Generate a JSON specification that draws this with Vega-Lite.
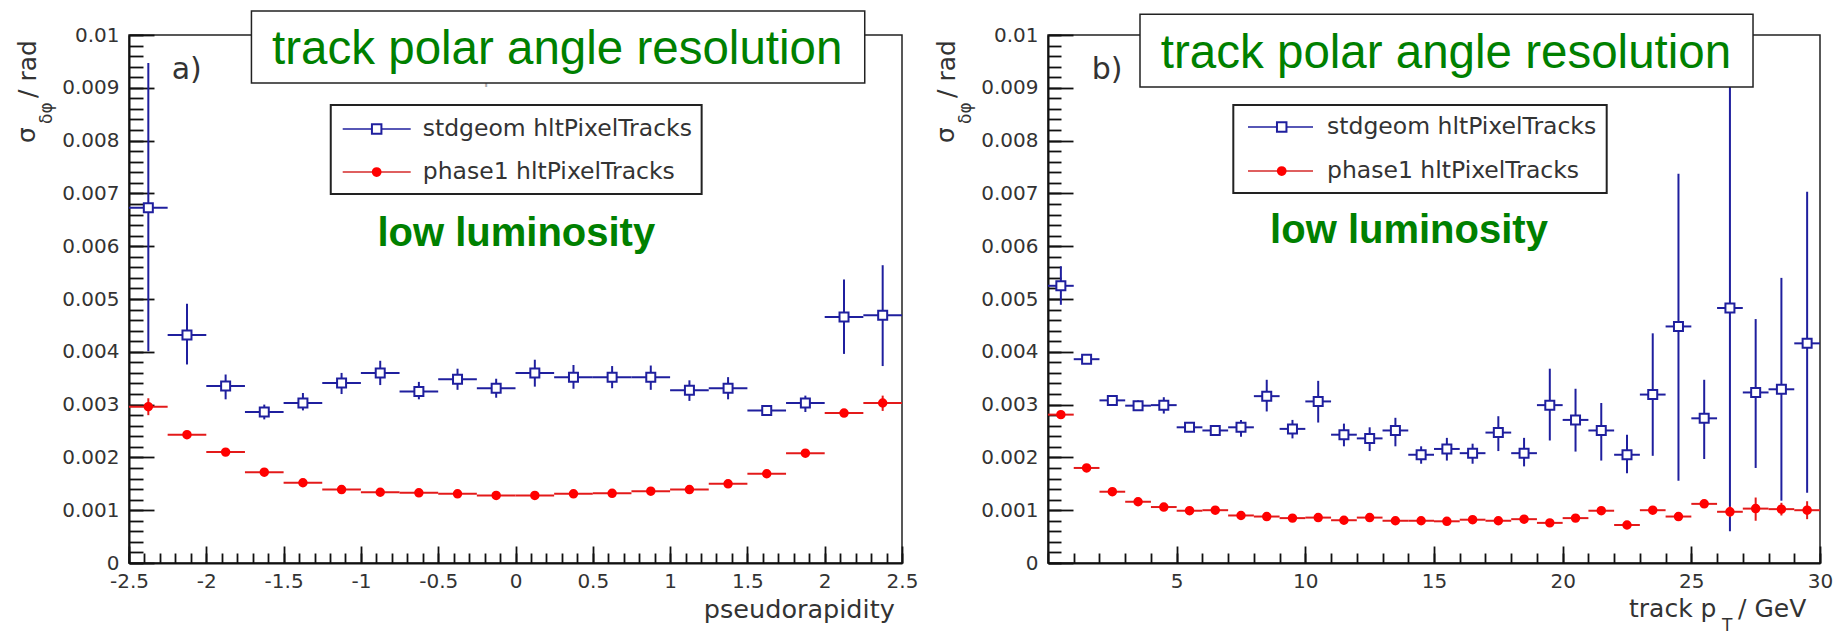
{
  "$schema": "https://vega.github.io/schema/vega-lite/v6.json",
  "background": "white",
  "padding": {"left": 13, "top": 9, "right": 0, "bottom": 0},
  "bounds": "flush",
  "spacing": 146,
  "config": {
    "view": {"stroke": "#222", "strokeWidth": 1.5},
    "axis": {"grid": false, "labelFont": "DejaVu Sans", "labelFontSize": 20, "labelColor": "#333", "tickColor": "#111", "tickWidth": 1.8, "domainColor": "#111", "domainWidth": 2, "labelFlush": false, "labelOverlap": false}
  },
  "datasets": {
    "eta": [
      {"s": "stdgeom", "x": -2.375, "xlo": -2.5, "xhi": -2.25, "y": 0.00673, "ylo": 0.00401, "yhi": 0.00947},
      {"s": "stdgeom", "x": -2.125, "xlo": -2.25, "xhi": -2.0, "y": 0.00432, "ylo": 0.00376, "yhi": 0.00491},
      {"s": "stdgeom", "x": -1.875, "xlo": -2.0, "xhi": -1.75, "y": 0.00335, "ylo": 0.0031, "yhi": 0.00357},
      {"s": "stdgeom", "x": -1.625, "xlo": -1.75, "xhi": -1.5, "y": 0.00286, "ylo": 0.00272, "yhi": 0.003},
      {"s": "stdgeom", "x": -1.375, "xlo": -1.5, "xhi": -1.25, "y": 0.00303, "ylo": 0.00289, "yhi": 0.00322},
      {"s": "stdgeom", "x": -1.125, "xlo": -1.25, "xhi": -1.0, "y": 0.00341, "ylo": 0.0032, "yhi": 0.0036},
      {"s": "stdgeom", "x": -0.875, "xlo": -1.0, "xhi": -0.75, "y": 0.0036, "ylo": 0.00337, "yhi": 0.00383},
      {"s": "stdgeom", "x": -0.625, "xlo": -0.75, "xhi": -0.5, "y": 0.00325, "ylo": 0.0031, "yhi": 0.00343},
      {"s": "stdgeom", "x": -0.375, "xlo": -0.5, "xhi": -0.25, "y": 0.00348, "ylo": 0.00328, "yhi": 0.00368},
      {"s": "stdgeom", "x": -0.125, "xlo": -0.25, "xhi": 0.0, "y": 0.00331, "ylo": 0.00313, "yhi": 0.00349},
      {"s": "stdgeom", "x": 0.125, "xlo": 0.0, "xhi": 0.25, "y": 0.0036, "ylo": 0.00334, "yhi": 0.00385},
      {"s": "stdgeom", "x": 0.375, "xlo": 0.25, "xhi": 0.5, "y": 0.00352, "ylo": 0.0033, "yhi": 0.00375},
      {"s": "stdgeom", "x": 0.625, "xlo": 0.5, "xhi": 0.75, "y": 0.00352, "ylo": 0.00331, "yhi": 0.00373},
      {"s": "stdgeom", "x": 0.875, "xlo": 0.75, "xhi": 1.0, "y": 0.00352, "ylo": 0.00328, "yhi": 0.00374},
      {"s": "stdgeom", "x": 1.125, "xlo": 1.0, "xhi": 1.25, "y": 0.00327, "ylo": 0.00307, "yhi": 0.00346},
      {"s": "stdgeom", "x": 1.375, "xlo": 1.25, "xhi": 1.5, "y": 0.00331, "ylo": 0.0031, "yhi": 0.00352},
      {"s": "stdgeom", "x": 1.625, "xlo": 1.5, "xhi": 1.75, "y": 0.00289, "ylo": 0.0028, "yhi": 0.00298},
      {"s": "stdgeom", "x": 1.875, "xlo": 1.75, "xhi": 2.0, "y": 0.00303, "ylo": 0.00286, "yhi": 0.00317},
      {"s": "stdgeom", "x": 2.125, "xlo": 2.0, "xhi": 2.25, "y": 0.00466, "ylo": 0.00396, "yhi": 0.00537},
      {"s": "stdgeom", "x": 2.375, "xlo": 2.25, "xhi": 2.5, "y": 0.00469, "ylo": 0.00373, "yhi": 0.00564},
      {"s": "phase1", "x": -2.375, "xlo": -2.5, "xhi": -2.25, "y": 0.00296, "ylo": 0.0028, "yhi": 0.00312},
      {"s": "phase1", "x": -2.125, "xlo": -2.25, "xhi": -2.0, "y": 0.00243, "ylo": 0.00239, "yhi": 0.00247},
      {"s": "phase1", "x": -1.875, "xlo": -2.0, "xhi": -1.75, "y": 0.0021, "ylo": 0.00206, "yhi": 0.00214},
      {"s": "phase1", "x": -1.625, "xlo": -1.75, "xhi": -1.5, "y": 0.00172, "ylo": 0.00169, "yhi": 0.00175},
      {"s": "phase1", "x": -1.375, "xlo": -1.5, "xhi": -1.25, "y": 0.00152, "ylo": 0.00149, "yhi": 0.00155},
      {"s": "phase1", "x": -1.125, "xlo": -1.25, "xhi": -1.0, "y": 0.00139, "ylo": 0.00136, "yhi": 0.00142},
      {"s": "phase1", "x": -0.875, "xlo": -1.0, "xhi": -0.75, "y": 0.00134, "ylo": 0.00131, "yhi": 0.00137},
      {"s": "phase1", "x": -0.625, "xlo": -0.75, "xhi": -0.5, "y": 0.00133, "ylo": 0.0013, "yhi": 0.00136},
      {"s": "phase1", "x": -0.375, "xlo": -0.5, "xhi": -0.25, "y": 0.00131, "ylo": 0.00128, "yhi": 0.00134},
      {"s": "phase1", "x": -0.125, "xlo": -0.25, "xhi": 0.0, "y": 0.00128, "ylo": 0.00125, "yhi": 0.00131},
      {"s": "phase1", "x": 0.125, "xlo": 0.0, "xhi": 0.25, "y": 0.00128, "ylo": 0.00125, "yhi": 0.00131},
      {"s": "phase1", "x": 0.375, "xlo": 0.25, "xhi": 0.5, "y": 0.00131, "ylo": 0.00128, "yhi": 0.00134},
      {"s": "phase1", "x": 0.625, "xlo": 0.5, "xhi": 0.75, "y": 0.00132, "ylo": 0.00129, "yhi": 0.00135},
      {"s": "phase1", "x": 0.875, "xlo": 0.75, "xhi": 1.0, "y": 0.00136, "ylo": 0.00133, "yhi": 0.00139},
      {"s": "phase1", "x": 1.125, "xlo": 1.0, "xhi": 1.25, "y": 0.00139, "ylo": 0.00136, "yhi": 0.00142},
      {"s": "phase1", "x": 1.375, "xlo": 1.25, "xhi": 1.5, "y": 0.0015, "ylo": 0.00147, "yhi": 0.00153},
      {"s": "phase1", "x": 1.625, "xlo": 1.5, "xhi": 1.75, "y": 0.00169, "ylo": 0.00166, "yhi": 0.00172},
      {"s": "phase1", "x": 1.875, "xlo": 1.75, "xhi": 2.0, "y": 0.00208, "ylo": 0.00204, "yhi": 0.00212},
      {"s": "phase1", "x": 2.125, "xlo": 2.0, "xhi": 2.25, "y": 0.00284, "ylo": 0.00277, "yhi": 0.00291},
      {"s": "phase1", "x": 2.375, "xlo": 2.25, "xhi": 2.5, "y": 0.00303, "ylo": 0.00288, "yhi": 0.00317}
    ],
    "pt": [
      {"s": "stdgeom", "x": 0.5, "xlo": 0, "xhi": 1, "y": 0.00525, "ylo": 0.00489, "yhi": 0.00562},
      {"s": "stdgeom", "x": 1.5, "xlo": 1, "xhi": 2, "y": 0.00386, "ylo": 0.00379, "yhi": 0.00393},
      {"s": "stdgeom", "x": 2.5, "xlo": 2, "xhi": 3, "y": 0.00308, "ylo": 0.00301, "yhi": 0.00315},
      {"s": "stdgeom", "x": 3.5, "xlo": 3, "xhi": 4, "y": 0.00298, "ylo": 0.00288, "yhi": 0.00308},
      {"s": "stdgeom", "x": 4.5, "xlo": 4, "xhi": 5, "y": 0.00299, "ylo": 0.00283, "yhi": 0.00314},
      {"s": "stdgeom", "x": 5.5, "xlo": 5, "xhi": 6, "y": 0.00257, "ylo": 0.0025, "yhi": 0.00264},
      {"s": "stdgeom", "x": 6.5, "xlo": 6, "xhi": 7, "y": 0.00251, "ylo": 0.00244, "yhi": 0.00258},
      {"s": "stdgeom", "x": 7.5, "xlo": 7, "xhi": 8, "y": 0.00257, "ylo": 0.00239, "yhi": 0.00271},
      {"s": "stdgeom", "x": 8.5, "xlo": 8, "xhi": 9, "y": 0.00316, "ylo": 0.00287, "yhi": 0.00347},
      {"s": "stdgeom", "x": 9.5, "xlo": 9, "xhi": 10, "y": 0.00254, "ylo": 0.00236, "yhi": 0.00271},
      {"s": "stdgeom", "x": 10.5, "xlo": 10, "xhi": 11, "y": 0.00306, "ylo": 0.00266, "yhi": 0.00345},
      {"s": "stdgeom", "x": 11.5, "xlo": 11, "xhi": 12, "y": 0.00243, "ylo": 0.00221, "yhi": 0.00264},
      {"s": "stdgeom", "x": 12.5, "xlo": 12, "xhi": 13, "y": 0.00236, "ylo": 0.00212, "yhi": 0.00257},
      {"s": "stdgeom", "x": 13.5, "xlo": 13, "xhi": 14, "y": 0.00251, "ylo": 0.00221, "yhi": 0.00275},
      {"s": "stdgeom", "x": 14.5, "xlo": 14, "xhi": 15, "y": 0.00205, "ylo": 0.00188, "yhi": 0.00221},
      {"s": "stdgeom", "x": 15.5, "xlo": 15, "xhi": 16, "y": 0.00216, "ylo": 0.00194, "yhi": 0.00237},
      {"s": "stdgeom", "x": 16.5, "xlo": 16, "xhi": 17, "y": 0.00208, "ylo": 0.00188, "yhi": 0.00226},
      {"s": "stdgeom", "x": 17.5, "xlo": 17, "xhi": 18, "y": 0.00247, "ylo": 0.00212, "yhi": 0.00278},
      {"s": "stdgeom", "x": 18.5, "xlo": 18, "xhi": 19, "y": 0.00208, "ylo": 0.00183, "yhi": 0.00237},
      {"s": "stdgeom", "x": 19.5, "xlo": 19, "xhi": 20, "y": 0.00299, "ylo": 0.00232, "yhi": 0.00368},
      {"s": "stdgeom", "x": 20.5, "xlo": 20, "xhi": 21, "y": 0.00271, "ylo": 0.00211, "yhi": 0.0033},
      {"s": "stdgeom", "x": 21.5, "xlo": 21, "xhi": 22, "y": 0.00251, "ylo": 0.00194, "yhi": 0.00303},
      {"s": "stdgeom", "x": 22.5, "xlo": 22, "xhi": 23, "y": 0.00205, "ylo": 0.0017, "yhi": 0.00243},
      {"s": "stdgeom", "x": 23.5, "xlo": 23, "xhi": 24, "y": 0.00319, "ylo": 0.00203, "yhi": 0.00435},
      {"s": "stdgeom", "x": 24.5, "xlo": 24, "xhi": 25, "y": 0.00448, "ylo": 0.00156, "yhi": 0.00737},
      {"s": "stdgeom", "x": 25.5, "xlo": 25, "xhi": 26, "y": 0.00274, "ylo": 0.00197, "yhi": 0.00347},
      {"s": "stdgeom", "x": 26.5, "xlo": 26, "xhi": 27, "y": 0.00483, "ylo": 0.0006, "yhi": 0.00905},
      {"s": "stdgeom", "x": 27.5, "xlo": 27, "xhi": 28, "y": 0.00323, "ylo": 0.0018, "yhi": 0.00462},
      {"s": "stdgeom", "x": 28.5, "xlo": 28, "xhi": 29, "y": 0.00329, "ylo": 0.00118, "yhi": 0.0054},
      {"s": "stdgeom", "x": 29.5, "xlo": 29, "xhi": 30, "y": 0.00416, "ylo": 0.00133, "yhi": 0.00703},
      {"s": "phase1", "x": 0.5, "xlo": 0, "xhi": 1, "y": 0.00281, "ylo": 0.00276, "yhi": 0.00286},
      {"s": "phase1", "x": 1.5, "xlo": 1, "xhi": 2, "y": 0.0018, "ylo": 0.00176, "yhi": 0.00184},
      {"s": "phase1", "x": 2.5, "xlo": 2, "xhi": 3, "y": 0.00135, "ylo": 0.00132, "yhi": 0.00138},
      {"s": "phase1", "x": 3.5, "xlo": 3, "xhi": 4, "y": 0.00116, "ylo": 0.00113, "yhi": 0.00119},
      {"s": "phase1", "x": 4.5, "xlo": 4, "xhi": 5, "y": 0.00106, "ylo": 0.00103, "yhi": 0.00109},
      {"s": "phase1", "x": 5.5, "xlo": 5, "xhi": 6, "y": 0.00099, "ylo": 0.00096, "yhi": 0.00102},
      {"s": "phase1", "x": 6.5, "xlo": 6, "xhi": 7, "y": 0.001, "ylo": 0.00097, "yhi": 0.00103},
      {"s": "phase1", "x": 7.5, "xlo": 7, "xhi": 8, "y": 0.0009, "ylo": 0.00087, "yhi": 0.00093},
      {"s": "phase1", "x": 8.5, "xlo": 8, "xhi": 9, "y": 0.00088, "ylo": 0.00085, "yhi": 0.00091},
      {"s": "phase1", "x": 9.5, "xlo": 9, "xhi": 10, "y": 0.00085, "ylo": 0.00082, "yhi": 0.00088},
      {"s": "phase1", "x": 10.5, "xlo": 10, "xhi": 11, "y": 0.00086, "ylo": 0.00083, "yhi": 0.00089},
      {"s": "phase1", "x": 11.5, "xlo": 11, "xhi": 12, "y": 0.00081, "ylo": 0.00078, "yhi": 0.00084},
      {"s": "phase1", "x": 12.5, "xlo": 12, "xhi": 13, "y": 0.00086, "ylo": 0.00083, "yhi": 0.00089},
      {"s": "phase1", "x": 13.5, "xlo": 13, "xhi": 14, "y": 0.0008, "ylo": 0.00077, "yhi": 0.00083},
      {"s": "phase1", "x": 14.5, "xlo": 14, "xhi": 15, "y": 0.0008, "ylo": 0.00077, "yhi": 0.00083},
      {"s": "phase1", "x": 15.5, "xlo": 15, "xhi": 16, "y": 0.00079, "ylo": 0.00076, "yhi": 0.00082},
      {"s": "phase1", "x": 16.5, "xlo": 16, "xhi": 17, "y": 0.00082, "ylo": 0.00079, "yhi": 0.00085},
      {"s": "phase1", "x": 17.5, "xlo": 17, "xhi": 18, "y": 0.0008, "ylo": 0.00077, "yhi": 0.00083},
      {"s": "phase1", "x": 18.5, "xlo": 18, "xhi": 19, "y": 0.00083, "ylo": 0.0008, "yhi": 0.00086},
      {"s": "phase1", "x": 19.5, "xlo": 19, "xhi": 20, "y": 0.00076, "ylo": 0.00073, "yhi": 0.00079},
      {"s": "phase1", "x": 20.5, "xlo": 20, "xhi": 21, "y": 0.00085, "ylo": 0.00081, "yhi": 0.00089},
      {"s": "phase1", "x": 21.5, "xlo": 21, "xhi": 22, "y": 0.00099, "ylo": 0.00094, "yhi": 0.00104},
      {"s": "phase1", "x": 22.5, "xlo": 22, "xhi": 23, "y": 0.00072, "ylo": 0.00068, "yhi": 0.00076},
      {"s": "phase1", "x": 23.5, "xlo": 23, "xhi": 24, "y": 0.001, "ylo": 0.00093, "yhi": 0.00107},
      {"s": "phase1", "x": 24.5, "xlo": 24, "xhi": 25, "y": 0.00088, "ylo": 0.00081, "yhi": 0.00095},
      {"s": "phase1", "x": 25.5, "xlo": 25, "xhi": 26, "y": 0.00112, "ylo": 0.00105, "yhi": 0.00119},
      {"s": "phase1", "x": 26.5, "xlo": 26, "xhi": 27, "y": 0.00097, "ylo": 0.00087, "yhi": 0.00107},
      {"s": "phase1", "x": 27.5, "xlo": 27, "xhi": 28, "y": 0.00103, "ylo": 0.0008, "yhi": 0.00124},
      {"s": "phase1", "x": 28.5, "xlo": 28, "xhi": 29, "y": 0.00102, "ylo": 0.0009, "yhi": 0.00114},
      {"s": "phase1", "x": 29.5, "xlo": 29, "xhi": 30, "y": 0.001, "ylo": 0.00083, "yhi": 0.00117}
    ]
  },
  "hconcat": [
    {
      "width": 773,
      "height": 528,
      "resolve": {"axis": {"x": "independent", "y": "independent"}},
      "layer": [
        {
          "data": {"name": "eta"},
          "mark": {"type": "rule", "strokeWidth": 2},
          "encoding": {
            "x": {"field": "xlo", "type": "quantitative", "scale": {"domain": [-2.5, 2.5], "nice": false, "zero": false},
              "axis": {"orient": "bottom", "title": null, "values": [-2.5, -2, -1.5, -1, -0.5, 0, 0.5, 1, 1.5, 2, 2.5], "format": "~g", "labelExpr": "replace(datum.label, '−', '-')", "tickSize": -17, "labelPadding": 25, "labelFont": "DejaVu Sans", "labelFontSize": 20}},
            "x2": {"field": "xhi"},
            "y": {"field": "y", "type": "quantitative", "scale": {"domain": [0, 0.01], "nice": false, "zero": false},
              "axis": {"orient": "left", "title": null, "values": [0, 0.001, 0.002, 0.003, 0.004, 0.005, 0.006, 0.007, 0.008, 0.009, 0.01], "format": ".3~f", "tickSize": -25, "labelPadding": 35, "labelFont": "DejaVu Sans", "labelFontSize": 20}},
            "color": {"field": "s", "type": "nominal", "scale": {"domain": ["stdgeom", "phase1"], "range": ["#1f1f9e", "#e31a1a"]}, "legend": null}
          }
        },
        {
          "data": {"name": "eta"},
          "mark": {"type": "rule", "strokeWidth": 2},
          "encoding": {
            "x": {"field": "x", "type": "quantitative",
              "axis": {"orient": "bottom", "title": null, "labels": false, "domain": false, "tickSize": -10, "values": [-2.5, -2.4, -2.3, -2.2, -2.1, -2, -1.9, -1.8, -1.7, -1.6, -1.5, -1.4, -1.3, -1.2, -1.1, -1, -0.9, -0.8, -0.7, -0.6, -0.5, -0.4, -0.3, -0.2, -0.1, 0, 0.1, 0.2, 0.3, 0.4, 0.5, 0.6, 0.7, 0.8, 0.9, 1, 1.1, 1.2, 1.3, 1.4, 1.5, 1.6, 1.7, 1.8, 1.9, 2, 2.1, 2.2, 2.3, 2.4, 2.5]}},
            "y": {"field": "ylo", "type": "quantitative",
              "axis": {"orient": "left", "title": null, "labels": false, "domain": false, "tickSize": -14, "values": [0, 0.0002, 0.0004, 0.0006, 0.0008, 0.001, 0.0012, 0.0014, 0.0016, 0.0018, 0.002, 0.0022, 0.0024, 0.0026, 0.0028, 0.003, 0.0032, 0.0034, 0.0036, 0.0038, 0.004, 0.0042, 0.0044, 0.0046, 0.0048, 0.005, 0.0052, 0.0054, 0.0056, 0.0058, 0.006, 0.0062, 0.0064, 0.0066, 0.0068, 0.007, 0.0072, 0.0074, 0.0076, 0.0078, 0.008, 0.0082, 0.0084, 0.0086, 0.0088, 0.009, 0.0092, 0.0094, 0.0096, 0.0098, 0.01]}},
            "y2": {"field": "yhi"},
            "color": {"field": "s", "type": "nominal", "legend": null}
          }
        },
        {
          "data": {"name": "eta"},
          "mark": {"type": "point", "filled": true, "opacity": 1, "strokeWidth": 2},
          "encoding": {
            "x": {"field": "x", "type": "quantitative", "axis": null},
            "y": {"field": "y", "type": "quantitative", "axis": null},
            "shape": {"field": "s", "type": "nominal", "scale": {"domain": ["stdgeom", "phase1"], "range": ["square", "circle"]}, "legend": null},
            "fill": {"field": "s", "type": "nominal", "scale": {"domain": ["stdgeom", "phase1"], "range": ["#ffffff", "#ff0000"]}, "legend": null},
            "stroke": {"field": "s", "type": "nominal", "scale": {"domain": ["stdgeom", "phase1"], "range": ["#1f1f9e", "#ff0000"]}, "legend": null},
            "size": {"field": "s", "type": "nominal", "scale": {"domain": ["stdgeom", "phase1"], "range": [81, 56]}, "legend": null}
          }
        },
        {
          "data": {"values": [{}]},
          "mark": {"type": "text", "text": "track φ resolution", "font": "DejaVu Sans", "fontSize": 21, "color": "#aaa", "align": "center", "baseline": "alphabetic"},
          "encoding": {"x": {"datum": -0.025, "type": "quantitative", "axis": null}, "y": {"datum": 0.009085, "type": "quantitative", "axis": null}}
        },
        {
          "data": {"values": [{}]},
          "mark": {"type": "rect", "fill": "white", "stroke": "#222", "strokeWidth": 1.5},
          "encoding": {"x": {"datum": -1.708, "type": "quantitative", "axis": null}, "x2": {"datum": 2.259}, "y": {"datum": 0.010455, "type": "quantitative", "axis": null}, "y2": {"datum": 0.009091}}
        },
        {
          "data": {"values": [{}]},
          "mark": {"type": "text", "text": "track polar angle resolution", "font": "Liberation Sans", "fontSize": 47.5, "color": "#008000", "align": "center", "baseline": "alphabetic"},
          "encoding": {"x": {"datum": 0.27, "type": "quantitative", "axis": null}, "y": {"datum": 0.009451, "type": "quantitative", "axis": null}}
        },
        {
          "data": {"values": [{}]},
          "mark": {"type": "text", "text": "a)", "font": "DejaVu Sans", "fontSize": 30, "color": "#333", "align": "left", "baseline": "alphabetic"},
          "encoding": {"x": {"datum": -2.224, "type": "quantitative", "axis": null}, "y": {"datum": 0.009167, "type": "quantitative", "axis": null}}
        },
        {
          "data": {"values": [{}]},
          "mark": {"type": "rect", "fill": "white", "stroke": "#222", "strokeWidth": 2},
          "encoding": {"x": {"datum": -1.195, "type": "quantitative", "axis": null}, "x2": {"datum": 1.204}, "y": {"datum": 0.008674, "type": "quantitative", "axis": null}, "y2": {"datum": 0.006989}}
        },
        {
          "data": {"values": [{}]},
          "mark": {"type": "rule", "color": "#1f1f9e", "strokeWidth": 1.5},
          "encoding": {"x": {"datum": -1.1177, "type": "quantitative", "axis": null}, "x2": {"datum": -0.6779}, "y": {"datum": 0.00822, "type": "quantitative", "axis": null}}
        },
        {
          "data": {"values": [{}]},
          "mark": {"type": "point", "shape": "square", "size": 90, "filled": true, "fill": "white", "stroke": "#1f1f9e", "strokeWidth": 2, "opacity": 1},
          "encoding": {"x": {"datum": -0.898, "type": "quantitative", "axis": null}, "y": {"datum": 0.00822, "type": "quantitative", "axis": null}}
        },
        {
          "data": {"values": [{}]},
          "mark": {"type": "text", "text": "stdgeom hltPixelTracks", "font": "DejaVu Sans", "fontSize": 23.5, "color": "#333", "align": "left", "baseline": "middle"},
          "encoding": {"x": {"datum": -0.6, "type": "quantitative", "axis": null}, "y": {"datum": 0.00822, "type": "quantitative", "axis": null}}
        },
        {
          "data": {"values": [{}]},
          "mark": {"type": "rule", "color": "#d42a2a", "strokeWidth": 1.5},
          "encoding": {"x": {"datum": -1.1177, "type": "quantitative", "axis": null}, "x2": {"datum": -0.6779}, "y": {"datum": 0.007405, "type": "quantitative", "axis": null}}
        },
        {
          "data": {"values": [{}]},
          "mark": {"type": "point", "shape": "circle", "size": 60, "filled": true, "fill": "#ff0000", "stroke": "#ff0000", "strokeWidth": 2, "opacity": 1},
          "encoding": {"x": {"datum": -0.898, "type": "quantitative", "axis": null}, "y": {"datum": 0.007405, "type": "quantitative", "axis": null}}
        },
        {
          "data": {"values": [{}]},
          "mark": {"type": "text", "text": "phase1 hltPixelTracks", "font": "DejaVu Sans", "fontSize": 23.5, "color": "#333", "align": "left", "baseline": "middle"},
          "encoding": {"x": {"datum": -0.6, "type": "quantitative", "axis": null}, "y": {"datum": 0.007405, "type": "quantitative", "axis": null}}
        },
        {
          "data": {"values": [{}]},
          "mark": {"type": "text", "text": "low luminosity", "font": "Liberation Sans", "fontWeight": "bold", "fontSize": 40, "color": "#008000", "align": "center", "baseline": "alphabetic"},
          "encoding": {"x": {"datum": 0.005, "type": "quantitative", "axis": null}, "y": {"datum": 0.006004, "type": "quantitative", "axis": null}}
        },
        {
          "data": {"values": [{}]},
          "mark": {"type": "text", "text": "σ", "font": "DejaVu Sans", "fontSize": 25, "color": "#333", "align": "left", "baseline": "alphabetic", "angle": 270},
          "encoding": {"x": {"datum": -3.11, "type": "quantitative", "axis": null}, "y": {"datum": 0.007955, "type": "quantitative", "axis": null}}
        },
        {
          "data": {"values": [{}]},
          "mark": {"type": "text", "text": "δφ", "font": "DejaVu Sans", "fontSize": 17, "color": "#333", "align": "left", "baseline": "alphabetic", "angle": 270},
          "encoding": {"x": {"datum": -3.0, "type": "quantitative", "axis": null}, "y": {"datum": 0.008314, "type": "quantitative", "axis": null}}
        },
        {
          "data": {"values": [{}]},
          "mark": {"type": "text", "text": "/ rad", "font": "DejaVu Sans", "fontSize": 25, "color": "#333", "align": "left", "baseline": "alphabetic", "angle": 270},
          "encoding": {"x": {"datum": -3.1035, "type": "quantitative", "axis": null}, "y": {"datum": 0.008807, "type": "quantitative", "axis": null}}
        },
        {
          "data": {"values": [{}]},
          "mark": {"type": "text", "text": "pseudorapidity", "font": "DejaVu Sans", "fontSize": 25.5, "color": "#333", "align": "right", "baseline": "alphabetic"},
          "encoding": {"x": {"datum": 2.453, "type": "quantitative", "axis": null}, "y": {"datum": -0.001042, "type": "quantitative", "axis": null}}
        }
      ]
    },
    {
      "width": 772,
      "height": 528,
      "resolve": {"axis": {"x": "independent", "y": "independent"}},
      "layer": [
        {
          "data": {"name": "pt"},
          "mark": {"type": "rule", "strokeWidth": 2},
          "encoding": {
            "x": {"field": "xlo", "type": "quantitative", "scale": {"domain": [0, 30], "nice": false, "zero": false},
              "axis": {"orient": "bottom", "title": null, "values": [5, 10, 15, 20, 25, 30], "format": "~g", "tickSize": -17, "labelPadding": 25, "labelFont": "DejaVu Sans", "labelFontSize": 20}},
            "x2": {"field": "xhi"},
            "y": {"field": "y", "type": "quantitative", "scale": {"domain": [0, 0.01], "nice": false, "zero": false},
              "axis": {"orient": "left", "title": null, "values": [0, 0.001, 0.002, 0.003, 0.004, 0.005, 0.006, 0.007, 0.008, 0.009, 0.01], "format": ".3~f", "tickSize": -25, "labelPadding": 35, "labelFont": "DejaVu Sans", "labelFontSize": 20}},
            "color": {"field": "s", "type": "nominal", "scale": {"domain": ["stdgeom", "phase1"], "range": ["#1f1f9e", "#e31a1a"]}, "legend": null}
          }
        },
        {
          "data": {"name": "pt"},
          "mark": {"type": "rule", "strokeWidth": 2},
          "encoding": {
            "x": {"field": "x", "type": "quantitative",
              "axis": {"orient": "bottom", "title": null, "labels": false, "domain": false, "tickSize": -10, "values": [0, 1, 2, 3, 4, 5, 6, 7, 8, 9, 10, 11, 12, 13, 14, 15, 16, 17, 18, 19, 20, 21, 22, 23, 24, 25, 26, 27, 28, 29, 30]}},
            "y": {"field": "ylo", "type": "quantitative",
              "axis": {"orient": "left", "title": null, "labels": false, "domain": false, "tickSize": -13, "values": [0, 0.0002, 0.0004, 0.0006, 0.0008, 0.001, 0.0012, 0.0014, 0.0016, 0.0018, 0.002, 0.0022, 0.0024, 0.0026, 0.0028, 0.003, 0.0032, 0.0034, 0.0036, 0.0038, 0.004, 0.0042, 0.0044, 0.0046, 0.0048, 0.005, 0.0052, 0.0054, 0.0056, 0.0058, 0.006, 0.0062, 0.0064, 0.0066, 0.0068, 0.007, 0.0072, 0.0074, 0.0076, 0.0078, 0.008, 0.0082, 0.0084, 0.0086, 0.0088, 0.009, 0.0092, 0.0094, 0.0096, 0.0098, 0.01]}},
            "y2": {"field": "yhi"},
            "color": {"field": "s", "type": "nominal", "legend": null}
          }
        },
        {
          "data": {"name": "pt"},
          "mark": {"type": "point", "filled": true, "opacity": 1, "strokeWidth": 2},
          "encoding": {
            "x": {"field": "x", "type": "quantitative", "axis": null},
            "y": {"field": "y", "type": "quantitative", "axis": null},
            "shape": {"field": "s", "type": "nominal", "scale": {"domain": ["stdgeom", "phase1"], "range": ["square", "circle"]}, "legend": null},
            "fill": {"field": "s", "type": "nominal", "scale": {"domain": ["stdgeom", "phase1"], "range": ["#ffffff", "#ff0000"]}, "legend": null},
            "stroke": {"field": "s", "type": "nominal", "scale": {"domain": ["stdgeom", "phase1"], "range": ["#1f1f9e", "#ff0000"]}, "legend": null},
            "size": {"field": "s", "type": "nominal", "scale": {"domain": ["stdgeom", "phase1"], "range": [81, 56]}, "legend": null}
          }
        },
        {
          "data": {"values": [{}]},
          "mark": {"type": "rect", "fill": "white", "stroke": "#222", "strokeWidth": 1.5},
          "encoding": {"x": {"datum": 3.575, "type": "quantitative", "axis": null}, "x2": {"datum": 27.397}, "y": {"datum": 0.010392, "type": "quantitative", "axis": null}, "y2": {"datum": 0.009015}}
        },
        {
          "data": {"values": [{}]},
          "mark": {"type": "text", "text": "track polar angle resolution", "font": "Liberation Sans", "fontSize": 47.5, "color": "#008000", "align": "center", "baseline": "alphabetic"},
          "encoding": {"x": {"datum": 15.466, "type": "quantitative", "axis": null}, "y": {"datum": 0.009381, "type": "quantitative", "axis": null}}
        },
        {
          "data": {"values": [{}]},
          "mark": {"type": "text", "text": "b)", "font": "DejaVu Sans", "fontSize": 30, "color": "#333", "align": "left", "baseline": "alphabetic"},
          "encoding": {"x": {"datum": 1.698, "type": "quantitative", "axis": null}, "y": {"datum": 0.009167, "type": "quantitative", "axis": null}}
        },
        {
          "data": {"values": [{}]},
          "mark": {"type": "rect", "fill": "white", "stroke": "#222", "strokeWidth": 2},
          "encoding": {"x": {"datum": 7.201, "type": "quantitative", "axis": null}, "x2": {"datum": 21.711}, "y": {"datum": 0.008674, "type": "quantitative", "axis": null}, "y2": {"datum": 0.007008}}
        },
        {
          "data": {"values": [{}]},
          "mark": {"type": "rule", "color": "#1f1f9e", "strokeWidth": 1.5},
          "encoding": {"x": {"datum": 7.772, "type": "quantitative", "axis": null}, "x2": {"datum": 10.298}, "y": {"datum": 0.008258, "type": "quantitative", "axis": null}}
        },
        {
          "data": {"values": [{}]},
          "mark": {"type": "point", "shape": "square", "size": 90, "filled": true, "fill": "white", "stroke": "#1f1f9e", "strokeWidth": 2, "opacity": 1},
          "encoding": {"x": {"datum": 9.082, "type": "quantitative", "axis": null}, "y": {"datum": 0.008258, "type": "quantitative", "axis": null}}
        },
        {
          "data": {"values": [{}]},
          "mark": {"type": "text", "text": "stdgeom hltPixelTracks", "font": "DejaVu Sans", "fontSize": 23.5, "color": "#333", "align": "left", "baseline": "middle"},
          "encoding": {"x": {"datum": 10.842, "type": "quantitative", "axis": null}, "y": {"datum": 0.008258, "type": "quantitative", "axis": null}}
        },
        {
          "data": {"values": [{}]},
          "mark": {"type": "rule", "color": "#d42a2a", "strokeWidth": 1.5},
          "encoding": {"x": {"datum": 7.772, "type": "quantitative", "axis": null}, "x2": {"datum": 10.298}, "y": {"datum": 0.007424, "type": "quantitative", "axis": null}}
        },
        {
          "data": {"values": [{}]},
          "mark": {"type": "point", "shape": "circle", "size": 60, "filled": true, "fill": "#ff0000", "stroke": "#ff0000", "strokeWidth": 2, "opacity": 1},
          "encoding": {"x": {"datum": 9.082, "type": "quantitative", "axis": null}, "y": {"datum": 0.007424, "type": "quantitative", "axis": null}}
        },
        {
          "data": {"values": [{}]},
          "mark": {"type": "text", "text": "phase1 hltPixelTracks", "font": "DejaVu Sans", "fontSize": 23.5, "color": "#333", "align": "left", "baseline": "middle"},
          "encoding": {"x": {"datum": 10.842, "type": "quantitative", "axis": null}, "y": {"datum": 0.007424, "type": "quantitative", "axis": null}}
        },
        {
          "data": {"values": [{}]},
          "mark": {"type": "text", "text": "low luminosity", "font": "Liberation Sans", "fontWeight": "bold", "fontSize": 40, "color": "#008000", "align": "center", "baseline": "alphabetic"},
          "encoding": {"x": {"datum": 14.029, "type": "quantitative", "axis": null}, "y": {"datum": 0.006061, "type": "quantitative", "axis": null}}
        },
        {
          "data": {"values": [{}]},
          "mark": {"type": "text", "text": "σ", "font": "DejaVu Sans", "fontSize": 25, "color": "#333", "align": "left", "baseline": "alphabetic", "angle": 270},
          "encoding": {"x": {"datum": -3.653, "type": "quantitative", "axis": null}, "y": {"datum": 0.007955, "type": "quantitative", "axis": null}}
        },
        {
          "data": {"values": [{}]},
          "mark": {"type": "text", "text": "δφ", "font": "DejaVu Sans", "fontSize": 17, "color": "#333", "align": "left", "baseline": "alphabetic", "angle": 270},
          "encoding": {"x": {"datum": -2.992, "type": "quantitative", "axis": null}, "y": {"datum": 0.008314, "type": "quantitative", "axis": null}}
        },
        {
          "data": {"values": [{}]},
          "mark": {"type": "text", "text": "/ rad", "font": "DejaVu Sans", "fontSize": 25, "color": "#333", "align": "left", "baseline": "alphabetic", "angle": 270},
          "encoding": {"x": {"datum": -3.614, "type": "quantitative", "axis": null}, "y": {"datum": 0.008807, "type": "quantitative", "axis": null}}
        },
        {
          "data": {"values": [{}]},
          "mark": {"type": "text", "text": "track p", "font": "DejaVu Sans", "fontSize": 25, "color": "#333", "align": "left", "baseline": "alphabetic"},
          "encoding": {"x": {"datum": 22.578, "type": "quantitative", "axis": null}, "y": {"datum": -0.001023, "type": "quantitative", "axis": null}}
        },
        {
          "data": {"values": [{}]},
          "mark": {"type": "text", "text": "T", "font": "DejaVu Sans", "fontSize": 17, "color": "#333", "align": "left", "baseline": "alphabetic"},
          "encoding": {"x": {"datum": 26.192, "type": "quantitative", "axis": null}, "y": {"datum": -0.001288, "type": "quantitative", "axis": null}}
        },
        {
          "data": {"values": [{}]},
          "mark": {"type": "text", "text": "/ GeV", "font": "DejaVu Sans", "fontSize": 25, "color": "#333", "align": "left", "baseline": "alphabetic"},
          "encoding": {"x": {"datum": 26.814, "type": "quantitative", "axis": null}, "y": {"datum": -0.001023, "type": "quantitative", "axis": null}}
        }
      ]
    }
  ]
}
